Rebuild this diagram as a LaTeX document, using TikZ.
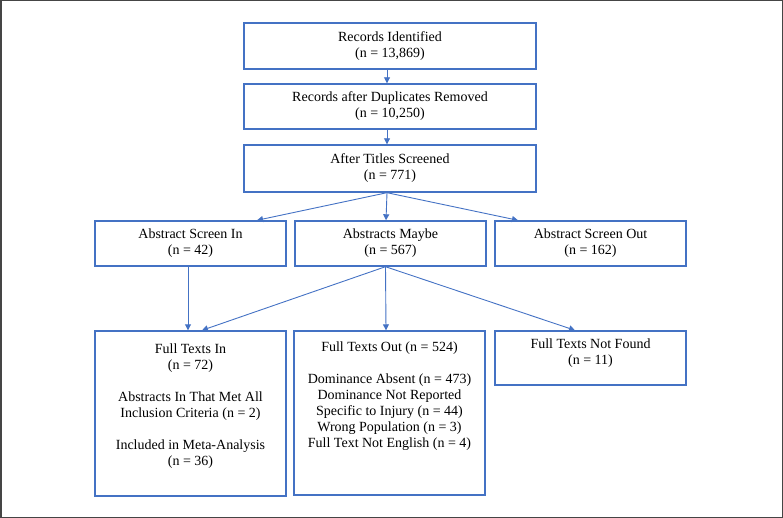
\documentclass[tikz,border=0pt]{standalone}
\usepackage{fontspec}
\setmainfont{Liberation Serif}
\usetikzlibrary{arrows.meta}
\definecolor{boxblue}{HTML}{4472C4}
\definecolor{framegray}{HTML}{454545}
\begin{document}
\begin{tikzpicture}[x=1pt,y=-1pt,
  box/.style={draw=boxblue, line width=1.4pt, rectangle, inner sep=0pt, align=center, font=\fontsize{14}{16}\selectfont},
  txt/.style={inner sep=0pt, align=center, font=\fontsize{14}{16}\selectfont, anchor=north},
  conn/.style={draw=boxblue, line width=0.9pt, -{Triangle[length=6pt,width=6pt]}}
]
\useasboundingbox (0,0) rectangle (783,518);
\draw[framegray, line width=1.5pt] (0.75,0.75) rectangle (782.25,517.25);

% top column
\node[box, minimum width=292pt, minimum height=46pt] (b1) at (390,46) {\strut Records Identified\\(n = 13,869)\strut};
\node[box, minimum width=292pt, minimum height=45pt] (b2) at (390,106.5) {\strut Records after Duplicates Removed\\(n = 10,250)\strut};
\node[box, minimum width=292pt, minimum height=47pt] (b3) at (390,168.5) {\strut After Titles Screened\\(n = 771)\strut};

% second row
\node[box, minimum width=191pt, minimum height=45pt] (si) at (190.5,243.5) {\strut Abstract Screen In\\(n = 42)\strut};
\node[box, minimum width=191pt, minimum height=45pt] (am) at (390.5,243.5) {\strut Abstracts Maybe\\(n = 567)\strut};
\node[box, minimum width=191pt, minimum height=45pt] (so) at (590.5,243.5) {\strut Abstract Screen Out\\(n = 162)\strut};

% third row
\node[box, minimum width=191pt, minimum height=165pt] (fti) at (190.5,413.5) {};
\node[box, minimum width=191pt, minimum height=164pt] (fto) at (389.5,413) {};
\node[box, minimum width=191pt, minimum height=54pt] (nf) at (590.5,358) {};

\node[txt] (ftiT) at (190.5,341.8) {\strut Full Texts In\\(n = 72)\\[16pt]Abstracts In That Met All\\Inclusion Criteria (n = 2)\\[16pt]Included in Meta-Analysis\\(n = 36)};
\node[txt] (ftoT) at (389.5,339.8) {\strut Full Texts Out (n = 524)\\[16pt]Dominance Absent (n = 473)\\Dominance Not Reported\\Specific to Injury (n = 44)\\Wrong Population (n = 3)\\Full Text Not English (n = 4)};
\node[txt] (nfT) at (590.5,336.8) {\strut Full Texts Not Found\\(n = 11)};

% connectors
\draw[conn] ([xshift=-3pt]b1.south) -- ([xshift=-3pt]b2.north);
\draw[conn] ([xshift=-3pt]b2.south) -- ([xshift=-3pt]b3.north);
\draw[conn] ([xshift=-3pt]b3.south) -- ([xshift=66.5pt]si.north);
\draw[conn] ([xshift=-3pt]b3.south) -- ([xshift=-4.5pt]am.north);
\draw[conn] ([xshift=-3pt]b3.south) -- ([xshift=-72.5pt]so.north);
\draw[conn] ([xshift=-2.5pt]si.south) -- ([xshift=-2.5pt]fti.north);
\draw[conn] ([xshift=-5pt]am.south) -- ([xshift=11.5pt]fti.north);
\draw[conn] ([xshift=-5pt]am.south) -- ([xshift=-3.5pt]fto.north);
\draw[conn] ([xshift=-5pt]am.south) -- ([xshift=-15.5pt]nf.north);
\end{tikzpicture}
\end{document}
